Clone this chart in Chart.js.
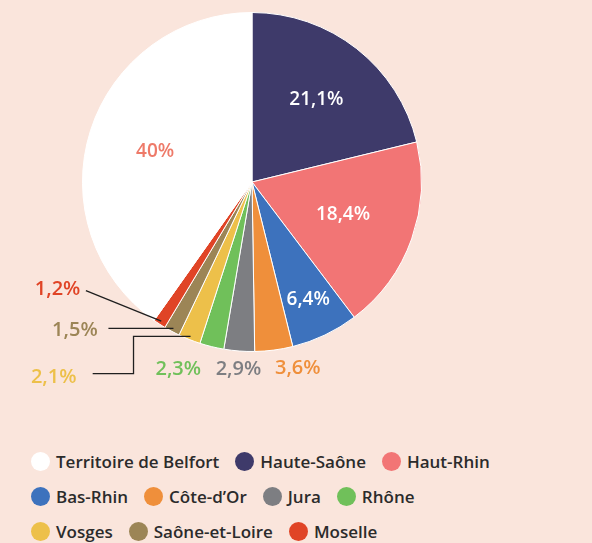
<!DOCTYPE html>
<html>
<head>
<meta charset="utf-8">
<title>Répartition par département</title>
<script src="https://cdn.jsdelivr.net/npm/chart.js@4.4.1/dist/chart.umd.min.js"></script>
<style>
body {
margin: 0;
background-color: #fae5dc;
font-family: "Open Sans", "Noto Sans", sans-serif;
}
#wrap {
position: relative;
width: 592px;
height: 543px;
}
#legend {
position: absolute;
left: 31px;
top: 444px;
}
.row {
display: flex;
align-items: center;
height: 35px;
}
.item {
display: flex;
align-items: center;
margin-right: 16px;
font-size: 17px;
font-weight: 600;
color: #2b2b2b;
}
.dot {
width: 19px;
height: 19px;
border-radius: 50%;
margin-right: 6px;
}
</style>
</head>
<body>
<div id="wrap">
<canvas id="pie1" width="592" height="420"></canvas>
<div id="legend"></div>
</div>
<script>
var labels = ['Haute-Saône', 'Haut-Rhin', 'Bas-Rhin', 'Côte-d’Or', 'Jura', 'Rhône', 'Vosges', 'Saône-et-Loire', 'Moselle', 'Territoire de Belfort'];
var values = [21.1, 18.4, 6.4, 3.6, 2.9, 2.3, 2.1, 1.5, 1.2, 40];
var valueText = ['21,1%', '18,4%', '6,4%', '3,6%', '2,9%', '2,3%', '2,1%', '1,5%', '1,2%', '40%'];
var colors = ['#3e3a6a', '#f27575', '#3d72bd', '#ef8f3b', '#7d7e82', '#70c05a', '#edc04a', '#9c8556', '#e04426', '#ffffff'];
var legendRows = [[9, 0, 1], [2, 3, 4, 5], [6, 7, 8]];

// label placement, in units of the pie radius
// inside: r = distance from centre, da = angle shift (deg)
// outside: dx/dy from centre, line = leader path
var labelLayout = [
  { inside: true, r: 0.615, da: 0, color: '#ffffff' },
  { inside: true, r: 0.57, da: 0, color: '#ffffff' },
  { inside: true, r: 0.77, da: 0, color: '#ffffff' },
  { dx: 0.27, dy: 1.10 },
  { dx: -0.08, dy: 1.105 },
  { dx: -0.435, dy: 1.105 },
  { dx: -1.17, dy: 1.154, line: 'elbow', elbowX: -0.699, lineEndX: -0.94 },
  { dx: -1.045, dy: 0.876, line: 'flat', lineStartX: -0.847 },
  { dx: -1.147, dy: 0.635, line: 'direct', lineStartX: -0.98, lineStartY: 0.641 },
  { inside: true, r: 0.60, da: 0, color: '#ee7a69' }
];

var pieLabels = {
  id: 'pieLabels',
  afterDatasetsDraw: function (chart) {
    var ctx = chart.ctx;
    var meta = chart.getDatasetMeta(0);
    ctx.save();
    ctx.textAlign = 'center';
    ctx.textBaseline = 'middle';
    meta.data.forEach(function (arc, i) {
      var p = arc.getProps(['x', 'y', 'startAngle', 'endAngle', 'outerRadius']);
      var R = p.outerRadius;
      var mid = (p.startAngle + p.endAngle) / 2;
      var L = labelLayout[i];
      if (L.inside) {
        var a = mid + L.da * Math.PI / 180;
        ctx.font = '600 19px "Open Sans", "Noto Sans", sans-serif';
        ctx.fillStyle = L.color;
        ctx.fillText(valueText[i], p.x + Math.cos(a) * R * L.r, p.y + Math.sin(a) * R * L.r);
        return;
      }
      var tx = p.x + L.dx * R, ty = p.y + L.dy * R;
      ctx.font = '600 20px "Open Sans", "Noto Sans", sans-serif';
      ctx.fillStyle = colors[i];
      ctx.fillText(valueText[i], tx, ty);
      if (!L.line) return;
      var ex = p.x + Math.cos(mid) * R * 0.98, ey = p.y + Math.sin(mid) * R * 0.98;
      ctx.strokeStyle = '#1f1f1f';
      ctx.lineWidth = 1.3;
      ctx.beginPath();
      if (L.line === 'direct') {
        ctx.moveTo(p.x + L.lineStartX * R, p.y + L.lineStartY * R);
        ctx.lineTo(ex, ey);
      } else if (L.line === 'flat') {
        ctx.moveTo(p.x + L.lineStartX * R, ey);
        ctx.lineTo(ex, ey);
      } else {
        ctx.moveTo(ex, ey);
        ctx.lineTo(p.x + L.elbowX * R, ey);
        ctx.lineTo(p.x + L.elbowX * R, ty - 4);
        ctx.lineTo(p.x + L.lineEndX * R, ty - 4);
      }
      ctx.stroke();
    });
    ctx.restore();
  }
};

var ctx = document.getElementById('pie1').getContext('2d');
var chart = new Chart(ctx, {
  type: 'pie',
  data: {
    labels: labels,
    datasets: [{
      data: values,
      backgroundColor: colors,
      borderColor: '#ffffff',
      borderWidth: 1
    }]
  },
  options: {
    responsive: false,
    animation: false,
    layout: { padding: { left: 82, right: 170, top: 12, bottom: 68 } },
    plugins: {
      legend: { display: false },
      tooltip: { enabled: false }
    }
  },
  plugins: [pieLabels]
});

// html legend built from the same arrays
var lg = document.getElementById('legend');
legendRows.forEach(function (row) {
  var r = document.createElement('div');
  r.className = 'row';
  row.forEach(function (i) {
    var it = document.createElement('div');
    it.className = 'item';
    var d = document.createElement('span');
    d.className = 'dot';
    d.style.backgroundColor = colors[i];
    it.appendChild(d);
    it.appendChild(document.createTextNode(labels[i]));
    r.appendChild(it);
  });
  lg.appendChild(r);
});
</script>
</body>
</html>
